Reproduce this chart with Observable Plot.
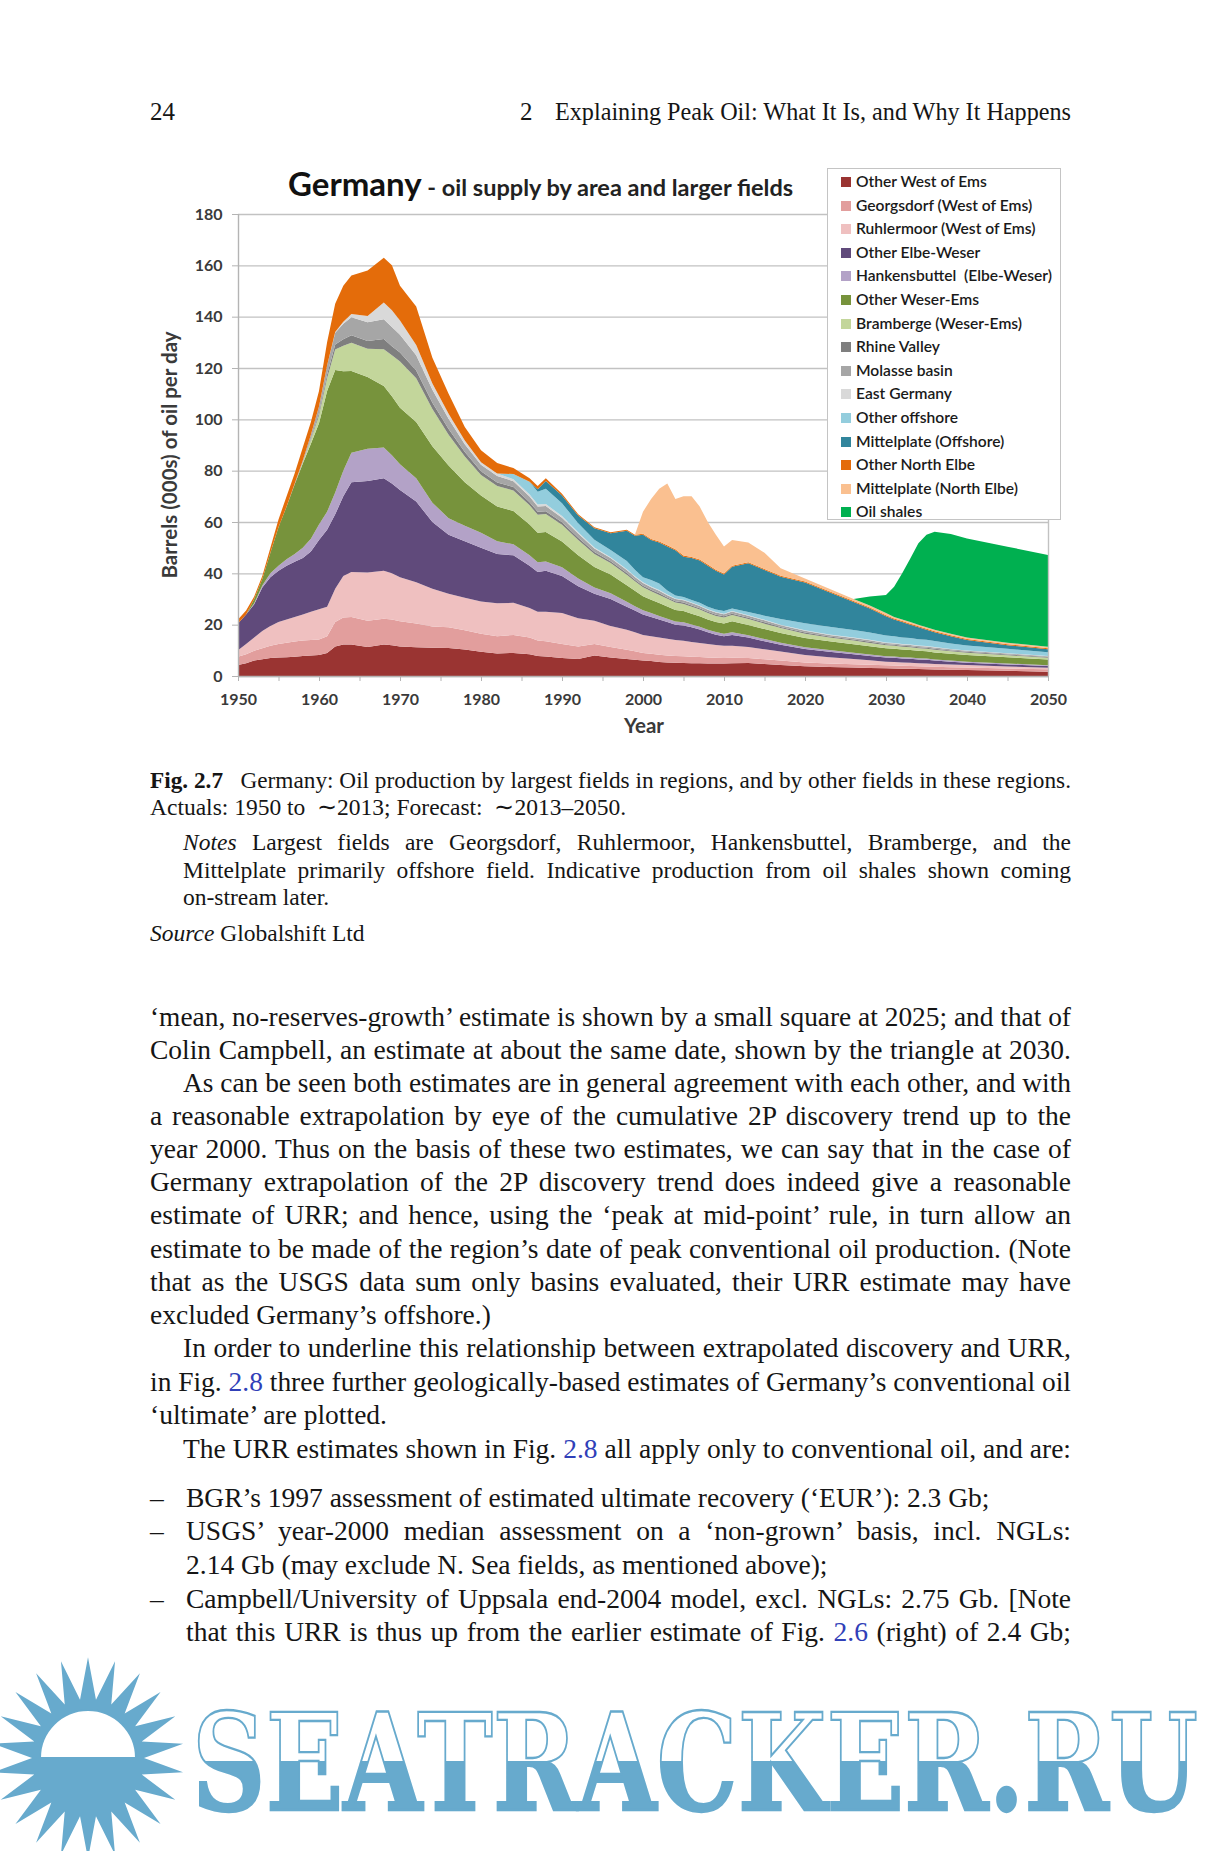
<!DOCTYPE html>
<html><head><meta charset="utf-8">
<script src="https://cdn.jsdelivr.net/npm/d3@7"></script>
<script src="https://cdn.jsdelivr.net/npm/@observablehq/plot@0.6"></script>
<style>
html,body{margin:0;padding:0;background:#fff;}
body{width:1221px;height:1851px;position:relative;overflow:hidden;}
.ln{position:absolute;font-family:"Liberation Serif","Times New Roman",serif;color:#151515;white-space:nowrap;transform-origin:0 0;}
.ref{color:#3040b8;}
#legend{position:absolute;left:827px;top:168px;width:234px;height:352px;background:#fff;border:1px solid #c4c4c4;box-sizing:border-box;font-family:Lato,"Open Sans",sans-serif;font-size:15.6px;font-weight:600;color:#1a1a1a;z-index:5;}
#legend .it{position:absolute;left:13px;height:20px;line-height:20px;white-space:nowrap;}
#legend .sw{display:inline-block;width:10px;height:10px;margin-right:5px;}
#chart{position:absolute;left:0;top:150px;z-index:1;}
#overlay{position:absolute;left:0;top:0;z-index:3;pointer-events:none;}
</style></head>
<body>
<div id="chart"></div>
<div id="legend"></div>
<svg id="overlay" width="1221" height="1851"></svg>
<script>
// ---------------- data ----------------
const years = [1950,1951,1952,1953,1954,1955,1956,1957,1958,1959, 1960,1961,1962,1963,1964,1966,1968,1969,1970,1972, 1974,1976,1978,1980,1982,1984,1986,1987,1988,1990, 1992,1994,1996,1998,1999,2000,2001,2002,2003,2004, 2005,2006,2007,2008,2009,2010,2011,2013,2015,2017, 2020,2023,2026,2028,2030,2031,2032,2033,2034,2035, 2036,2038,2040,2045,2050];

const seriesNames = ["Other West of Ems","Georgsdorf (West of Ems)","Ruhlermoor (West of Ems)","Other Elbe-Weser","Hankensbuttel  (Elbe-Weser)","Other Weser-Ems","Bramberge (Weser-Ems)","Rhine Valley","Molasse basin","East Germany","Other offshore","Mittelplate (Offshore)","Other North Elbe","Mittelplate (North Elbe)","Oil shales"];
const seriesColors = ["#9a3432","#e29e9d","#efc0c0","#604a7b","#b3a2c7","#77933c","#c3d69b","#7f7f7f","#a6a6a6","#d9d9d9","#93cddd","#31859c","#e46c0a","#fac090","#00b050"];

const otherWestOfEms = [4.3,5.0,6.0,6.5,7.0,7.2,7.3,7.5,7.8,8.0, 8.2,9.0,11.5,12.3,12.3,11.3,12.3,12.0,11.5,11.2, 11.0,10.9,10.3,9.4,8.8,9.0,8.5,7.8,7.6,7.0, 6.6,8.0,7.2,6.6,6.3,6.0,5.8,5.5,5.3,5.2, 5.1,5.0,5.0,4.9,4.9,4.9,5.0,5.1,4.7,4.3, 3.8,3.5,3.3,3.1,3.0,2.9,2.8,2.8,2.7,2.6, 2.5,2.4,2.3,2.0,1.7];
const georgsdorf = [3.2,3.5,3.8,4.3,4.8,5.3,5.7,5.9,6.0,6.0, 6.0,6.5,9.5,10.5,10.7,10.2,10.0,10.0,9.8,9.3, 8.3,8.1,7.5,7.1,6.7,7.0,6.5,6.0,5.9,5.5, 4.9,4.5,4.1,3.6,3.3,3.0,2.9,2.8,2.7,2.6, 2.6,2.5,2.4,2.3,2.2,2.1,2.1,1.9,1.8,1.7, 1.5,1.4,1.3,1.3,1.2,1.2,1.2,1.1,1.1,1.1, 1.1,1.0,1.0,0.9,0.9];
const ruhlermoor = [2.5,4.0,5.2,6.7,7.7,8.5,9.0,9.6,10.2,11.0, 11.8,11.5,13.0,16.2,17.5,18.8,18.7,18.0,17.2,16.0, 14.7,13.0,12.7,12.5,12.8,12.5,11.5,11.2,11.5,12.0, 11.0,9.0,8.2,7.8,7.4,7.0,6.8,6.7,6.5,6.2, 6.0,5.7,5.5,5.3,5.0,4.8,4.7,4.3,3.9,3.5, 2.9,2.4,2.0,1.7,1.4,1.4,1.3,1.3,1.2,1.2, 1.1,1.1,1.0,0.8,0.6];
const otherElbeWeser = [10.5,11.5,13.0,17.0,19.0,20.0,21.0,21.5,22.0,23.5, 27.0,30.0,29.0,31.0,35.0,35.7,36.0,35.0,34.0,31.5, 26.0,23.0,22.0,21.0,19.2,18.5,16.5,15.5,16.0,14.5, 12.5,10.5,10.5,9.0,8.5,8.0,7.5,7.0,6.5,6.0, 6.0,5.8,5.2,4.5,4.0,3.7,4.2,3.7,3.1,2.7, 2.3,2.1,1.9,1.7,1.6,1.6,1.5,1.5,1.4,1.4, 1.3,1.1,0.9,0.8,0.7];
const hankensbuttel = [0,0,0.3,0.8,1.5,2.0,2.5,3.0,4.0,5.0, 6.0,7.0,8.5,10.0,11.5,12.5,12.0,11.0,10.0,9.0, 7.5,6.5,6.0,5.8,5.0,4.3,4.0,3.8,3.6,3.4, 3.0,2.5,2.2,1.9,1.7,1.6,1.5,1.4,1.3,1.2, 1.2,1.1,1.1,1.0,1.0,1.0,1.0,0.9,0.9,0.8, 0.7,0.7,0.6,0.6,0.5,0.5,0.5,0.5,0.5,0.5, 0.4,0.4,0.4,0.4,0.3];
const otherWeserEms = [0,0,1.7,2.5,8,15,20.5,27.2,32.8,37, 39.5,47,47.7,38.7,31.8,28,24,23,22,22, 22,20.5,17,14.5,13.5,13,12,11.5,11.5,10, 9,8,7.3,6.5,6,5.5,5.2,5.0,4.8,4.5, 4.4,4.2,4.1,4.0,3.9,4.0,4.3,4.0,3.9,3.8, 3.6,3.4,3.3,3.2,3.1,3.0,3.0,2.9,2.9,2.8, 2.8,2.7,2.6,2.4,2.2];
const bramberge = [0,0,0,0,0,0,0,0,0.5,1.5, 3,5,8,10,11,11,14.3,16,18,17, 14.5,12,10,8,8,8,7.5,7,7,6.5, 6,5,4.5,4,3.7,3.5,3.3,3.2,3.0,2.9, 2.8,2.7,2.6,2.5,2.4,2.3,2.5,2.3,2.1,1.9, 1.7,1.5,1.4,1.3,1.2,1.2,1.1,1.1,1.0,1.0, 1.0,0.9,0.9,0.8,0.7];
const rhineValley = [0,0,0,0,0,0,0,0,0,0.5, 1,1.5,2,2.5,3,3,4,3.5,3.5,3, 2.5,2.2,1.8,1.5,1.4,1.3,1.2,1.2,1.1,1.0, 0.9,0.8,0.7,0.7,0.6,0.6,0.6,0.6,0.5,0.5, 0.5,0.5,0.5,0.5,0.5,0.5,0.5,0.5,0.5,0.4, 0.4,0.4,0.4,0.4,0.4,0.4,0.4,0.4,0.4,0.4, 0.4,0.3,0.3,0.3,0.3];
const molasseBasin = [0,0,0,0,0,0,0,0.3,0.7,1.5, 2.5,3.5,4.5,6,7,7.3,7.7,7.5,7,6, 5,4,3,2.5,2.5,2.3,2.2,2.0,2.0,1.8, 1.6,1.4,1.3,1.2,1.1,1.0,1.0,1.0,0.9,0.9, 0.9,0.9,0.9,0.8,0.8,0.8,0.8,0.8,0.8,0.7, 0.7,0.6,0.6,0.6,0.5,0.5,0.5,0.5,0.5,0.5, 0.5,0.5,0.4,0.4,0.3];
const eastGermany = [0,0,0,0,0,0,0,0,0,0, 0,0,0.3,0.8,1.2,2.5,6.5,6.5,5.5,4, 2.5,2,1.5,1,1,0.8,0.8,0.8,0.8,0.6, 0.5,0.4,0.3,0.3,0.3,0.3,0.3,0.3,0.3,0.2, 0.2,0.2,0.2,0.2,0.2,0.2,0.2,0.2,0.2,0.2, 0.2,0.2,0.2,0.2,0.2,0.2,0.2,0.2,0.2,0.2, 0.2,0.1,0.1,0.1,0.1];
const otherOffshore = [0,0,0,0,0,0,0,0,0,0, 0,0,0,0,0,0,0,0,0,0, 0,0,0,0,0,2,5,5,6,5, 3.5,3,2.8,3.2,2.5,2,2.5,2.5,1.5,1.2, 1.1,1.0,1.0,1.0,1.0,1.0,1.0,1.2,1.6,2.2, 2.8,3.0,2.9,2.8,2.7,2.6,2.5,2.5,2.4,2.4, 2.3,2.2,2.0,1.7,1.5];
const mittelplateOffshore = [0,0,0,0,0,0,0,0,0,0, 0,0,0,0,0,0,0,0,0,0, 0,0,0,0,0,0,0,1,3,3, 3,4.5,6.5,11.8,13.2,16.5,15.6,16,17.2,17.6, 15.7,16.4,16.5,16,15.1,14.2,16.3,19,17.8,16.5, 15.8,13.4,10.9,9.4,7.5,6.5,6.0,5.2,4.7,3.9, 3.4,2.8,2.1,1.4,1.1];
const otherNorthElbe = [1.5,1.5,1.0,1.2,2.0,3.0,4.0,4.0,5.0,5.0, 6.0,9.0,11,14,15,17.7,17.5,17.5,13.5,15, 10,7.8,5.2,4.7,4.1,2.3,1.3,1.2,1.0,0.7, 0.5,0.4,0.4,0.4,0.4,0.4,0.4,0.4,0.4,0.4, 0.4,0.4,0.4,0.4,0.4,0.4,0.4,0.4,0.4,0.4, 0.4,0.4,0.4,0.4,0.4,0.4,0.4,0.4,0.4,0.4, 0.4,0.4,0.4,0.4,0.4];
const mittelplateNorthElbe = [0,0,0,0,0,0,0,0,0,0, 0,0,0,0,0,0,0,0,0,0, 0,0,0,0,0,0,0,0,0,0, 0,0,0,0,0,8.6,15.6,20.6,24.1,19.6, 23.1,23.6,20.6,16.6,13.6,10.6,10,7.7,6.3,2.9, 1.2,1.0,0.8,0.8,0.8,0.6,0.6,0.6,0.6,0.6, 0.6,0.6,0.6,0.6,0.6];
const oilShales = [0,0,0,0,0,0,0,0,0,0, 0,0,0,0,0,0,0,0,0,0, 0,0,0,0,0,0,0,0,0,0, 0,0,0,0,0,0,0,0,0,0, 0,0,0,0,0,0,0,0,0,0, 0,0,0,3.5,7.1,11.8,18,24.8,31.7,36, 38.2,38.8,38.6,37.4,35.7];

const yTicks = [0,20,40,60,80,100,120,140,160,180];
const xTicks = [1950,1955,1960,1965,1970,1975,1980,1985,1990,1995,2000,2005,2010,2015,2020,2025,2030,2035,2040,2045,2050];

const seriesValues = [otherWestOfEms,georgsdorf,ruhlermoor,otherElbeWeser,hankensbuttel,otherWeserEms,bramberge,rhineValley,molasseBasin,eastGermany,otherOffshore,mittelplateOffshore,otherNorthElbe,mittelplateNorthElbe,oilShales];

const rows = [];
years.forEach((yr, i) => {
  seriesNames.forEach((s, k) => rows.push({year: yr, series: s, value: seriesValues[k][i]}));
});

// ---------------- chart ----------------
const chart = Plot.plot({
  width: 1221,
  height: 606,
  marginLeft: 238,
  marginRight: 173,
  marginTop: 64,
  marginBottom: 80,
  x: {domain: [1950, 2050], label: null},
  y: {domain: [0, 180], label: null},
  color: {domain: seriesNames, range: seriesColors},
  style: {fontFamily: "Lato, 'Open Sans', sans-serif", fontSize: "16px", fontWeight: "bold", background: "transparent", color: "#3a3a3a"},
  marks: [
    Plot.gridY(yTicks, {stroke: "#c2c2c2", strokeOpacity: 1, strokeWidth: 1.4}),
    Plot.areaY(rows, {x: "year", y: "value", fill: "series", order: seriesNames, curve: "linear"}),
    Plot.ruleX([2050], {y1: 0, y2: 180, stroke: "#c2c2c2", strokeWidth: 1.4}),
    Plot.ruleX([1950], {y1: 0, y2: 180, stroke: "#b4b4b4", strokeWidth: 1.4}),
    Plot.ruleY([0], {stroke: "#b4b4b4", strokeWidth: 1.6}),
    Plot.axisY({ticks: yTicks, tickSize: 6, tickPadding: 10, stroke: "#b4b4b4", fill: "#3a3a3a", label: null}),
    Plot.axisX({ticks: xTicks, tickSize: 5, tickPadding: 12, stroke: "#b4b4b4", fill: "#3a3a3a", label: null,
      tickFormat: d => d % 10 === 0 ? String(d) : ""})
  ]
});
document.getElementById("chart").appendChild(chart);

// ---------------- legend ----------------
const legend = document.getElementById("legend");
seriesNames.forEach((s, k) => {
  const it = document.createElement("div");
  it.className = "it";
  it.style.top = (2 + k * 23.6) + "px";
  it.innerHTML = `<span class="sw" style="background:${seriesColors[k]}"></span>${s.replace(/ {2}/g, "&nbsp; ")}`;
  legend.appendChild(it);
});

// ---------------- overlay: chart title, axis titles, watermark ----------------
const ov = d3.select("#overlay");
const t = ov.append("text").attr("x", 288).attr("y", 196)
  .attr("font-family", "Lato, 'Open Sans', sans-serif").attr("font-weight", "bold").attr("fill", "#111");
t.append("tspan").attr("font-size", 33).text("Germany");
t.append("tspan").attr("font-size", 23.5).attr("fill", "#222").text(" - oil supply by area and larger fields");

ov.append("text").attr("transform", "translate(172,455) rotate(-90)")
  .attr("text-anchor", "middle").attr("dominant-baseline", "middle")
  .attr("font-family", "Lato, 'Open Sans', sans-serif").attr("font-weight", "bold").attr("font-size", 20.5).attr("fill", "#3a3a3a")
  .text("Barrels (000s) of oil per day");
ov.append("text").attr("x", 644).attr("y", 728)
  .attr("text-anchor", "middle").attr("dominant-baseline", "middle")
  .attr("font-family", "Lato, 'Open Sans', sans-serif").attr("font-weight", "bold").attr("font-size", 20.5).attr("fill", "#3a3a3a")
  .text("Year");

// watermark (sun + lettering)
const blue = "#67aacd";
const defs = ov.append("defs");
const cx = 88, cy = 1758, nR = 22, rO = 96, rI = 56;
const pts = [];
for (let i = 0; i < nR * 2; i++) {
  const a = -Math.PI / 2 + i * Math.PI / nR;
  const r = i % 2 === 0 ? rO : rI;
  pts.push([cx + r * Math.cos(a), cy + r * Math.sin(a) * 1.05]);
}
ov.append("polygon").attr("points", pts.map(p => p.join(",")).join(" ")).attr("fill", blue);
ov.append("path").attr("d", `M${cx - 48},${cy} A48,48 0 0 1 ${cx + 48},${cy} Z`).attr("fill", "#fff").attr("stroke", blue).attr("stroke-width", 2);

const wmText = ov.append("text").attr("x", 0).attr("y", 0)
  .attr("font-family", "'DejaVu Serif', serif").attr("font-weight", "bold").attr("font-size", 100)
  .attr("stroke", blue).attr("stroke-width", 1.7)
  .text("SEATRACKER.RU");
const natW = wmText.node().getComputedTextLength();
const fs = 100 * 1000 / natW;              // fit the natural width to ~1000 px
wmText.attr("font-size", fs).attr("textLength", 1006).attr("lengthAdjust", "spacingAndGlyphs");
const capH = 0.729 * fs;
const sy = 98 / capH;                       // stretch vertically to the lettering height
wmText.attr("transform", `translate(192,1810) scale(1,${sy})`);
const g = defs.append("linearGradient").attr("id", "wm").attr("gradientUnits", "userSpaceOnUse")
  .attr("x1", 0).attr("x2", 0).attr("y1", -capH).attr("y2", 0);
g.append("stop").attr("offset", "0.5").attr("stop-color", "#fff");
g.append("stop").attr("offset", "0.5").attr("stop-color", blue);
g.append("stop").attr("offset", "1").attr("stop-color", blue);
wmText.attr("fill", "url(#wm)");

// ---------------- page text ----------------
function line(x, y, w, size, html, just, lh) {
  lh = lh || Math.round(size * 1.25);
  const d = document.createElement("div");
  d.className = "ln";
  d.style.left = x + "px";
  d.style.top = (y - lh / 2) + "px";
  d.style.fontSize = size + "px";
  d.style.lineHeight = lh + "px";
  const s = document.createElement("span");
  s.innerHTML = html;
  d.appendChild(s);
  document.body.appendChild(d);
  const nat = s.getBoundingClientRect().width;
  if (nat > w - 1) {
    d.style.transform = `scaleX(${w / nat})`;
  } else if (just) {
    d.style.width = w + "px";
    d.style.whiteSpace = "normal";
    d.style.textAlign = "justify";
    d.style.textAlignLast = "justify";
  }
}
// running head
line(150, 111, 60, 25, "24", false);
line(520, 111, 30, 25, "2", false);
line(555, 111, 516, 25, "Explaining Peak Oil: What It Is, and Why It Happens", true);
// caption
const CS = 23.5;
line(150, 780, 921, CS, "<b>Fig. 2.7</b>&nbsp;&nbsp; Germany: Oil production by largest fields in regions, and by other fields in these regions.", true);
line(150, 807, 921, CS, "Actuals: 1950 to &nbsp;∼2013; Forecast: &nbsp;∼2013–2050.", false);
line(183, 842, 888, CS, "<i>Notes</i> Largest fields are Georgsdorf, Ruhlermoor, Hankensbuttel, Bramberge, and the", true);
line(183, 870, 888, CS, "Mittelplate primarily offshore field. Indicative production from oil shales shown coming", true);
line(183, 897.5, 888, CS, "on-stream later.", false);
line(150, 933, 921, CS, "<i>Source</i> Globalshift Ltd", false);
// body
const BS = 27.5;
const body = [
  [150, 1016, 921, "‘mean, no-reserves-growth’ estimate is shown by a small square at 2025; and that of", true],
  [150, 1049, 921, "Colin Campbell, an estimate at about the same date, shown by the triangle at 2030.", true],
  [183, 1082, 888, "As can be seen both estimates are in general agreement with each other, and with", true],
  [150, 1115, 921, "a reasonable extrapolation by eye of the cumulative 2P discovery trend up to the", true],
  [150, 1148, 921, "year 2000. Thus on the basis of these two estimates, we can say that in the case of", true],
  [150, 1181, 921, "Germany extrapolation of the 2P discovery trend does indeed give a reasonable", true],
  [150, 1214, 921, "estimate of URR; and hence, using the ‘peak at mid-point’ rule, in turn allow an", true],
  [150, 1248, 921, "estimate to be made of the region’s date of peak conventional oil production. (Note", true],
  [150, 1281, 921, "that as the USGS data sum only basins evaluated, their URR estimate may have", true],
  [150, 1314.5, 921, "excluded Germany’s offshore.)", false],
  [183, 1347.5, 888, "In order to underline this relationship between extrapolated discovery and URR,", true],
  [150, 1381, 921, "in Fig. <span class='ref'>2.8</span> three further geologically-based estimates of Germany’s conventional oil", true],
  [150, 1414.5, 921, "‘ultimate’ are plotted.", false],
  [183, 1448, 888, "The URR estimates shown in Fig. <span class='ref'>2.8</span> all apply only to conventional oil, and are:", true],
  [150, 1497.5, 30, "–", false],
  [186, 1497.5, 885, "BGR’s 1997 assessment of estimated ultimate recovery (‘EUR’): 2.3 Gb;", false],
  [150, 1530.5, 30, "–", false],
  [186, 1530.5, 885, "USGS’ year-2000 median assessment on a ‘non-grown’ basis, incl. NGLs:", true],
  [186, 1564.5, 885, "2.14 Gb (may exclude N. Sea fields, as mentioned above);", false],
  [150, 1598, 30, "–", false],
  [186, 1598, 885, "Campbell/University of Uppsala end-2004 model, excl. NGLs: 2.75 Gb. [Note", true],
  [186, 1631, 885, "that this URR is thus up from the earlier estimate of Fig. <span class='ref'>2.6</span> (right) of 2.4 Gb;", true]
];
body.forEach(b => line(b[0], b[1], b[2], BS, b[3], b[4], 33));
</script>
</body></html>
